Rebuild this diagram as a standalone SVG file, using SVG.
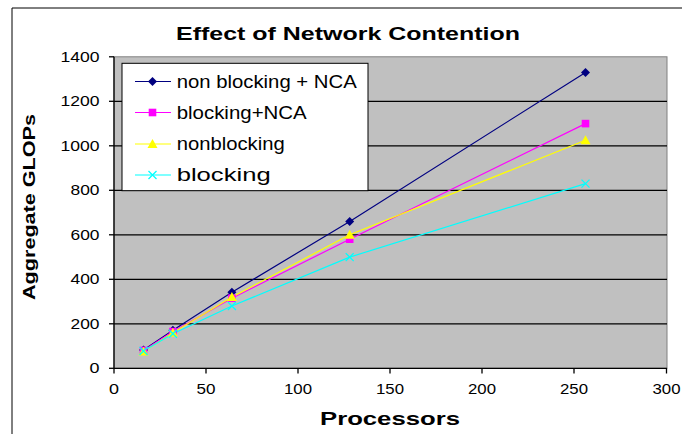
<svg xmlns="http://www.w3.org/2000/svg" width="682" height="434" viewBox="0 0 682 434">
<style>
.t{font-family:"Liberation Sans",Arial,sans-serif;fill:#000}
.tick{font-size:14.5px}
.lg{font-size:17.5px}
.b{font-weight:bold}
.grid{stroke:#000;stroke-width:1.2}
.ax{stroke:#000;stroke-width:1.3}
</style>
<defs>
<path id="dia" d="M0,-4.5L4.5,0L0,4.5L-4.5,0Z" fill="#000080"/>
<rect id="sq" x="-3.8" y="-3.8" width="7.6" height="7.6" fill="#FF00FF"/>
<path id="tri" d="M0,-5L5,4L-5,4Z" fill="#FFFF00"/>
<path id="ex" d="M-4,-4L4,4M-4,4L4,-4" stroke="#00FFFF" stroke-width="1.3" fill="none"/>
</defs>
<rect width="682" height="434" fill="#fff"/>
<path d="M12,440V8H682" fill="none" stroke="#000" stroke-width="1"/>
<text class="t b" x="176" y="40" font-size="18.5" textLength="344" lengthAdjust="spacingAndGlyphs">Effect of Network Contention</text>
<g id="plot">
<rect x="114" y="56.8" width="553" height="311.5" fill="#C0C0C0" stroke="#808080" stroke-width="1"/>
<g class="grid">
<line x1="114" y1="323.8" x2="667" y2="323.8"/>
<line x1="114" y1="279.3" x2="667" y2="279.3"/>
<line x1="114" y1="234.8" x2="667" y2="234.8"/>
<line x1="114" y1="190.3" x2="667" y2="190.3"/>
<line x1="114" y1="145.8" x2="667" y2="145.8"/>
<line x1="114" y1="101.3" x2="667" y2="101.3"/>
</g>
<g class="ax">
<line x1="114" y1="56.8" x2="114" y2="368.3"/>
<line x1="114" y1="368.3" x2="667" y2="368.3"/>
<line x1="109" y1="368.3" x2="114" y2="368.3"/>
<line x1="109" y1="323.8" x2="114" y2="323.8"/>
<line x1="109" y1="279.3" x2="114" y2="279.3"/>
<line x1="109" y1="234.8" x2="114" y2="234.8"/>
<line x1="109" y1="190.3" x2="114" y2="190.3"/>
<line x1="109" y1="145.8" x2="114" y2="145.8"/>
<line x1="109" y1="101.3" x2="114" y2="101.3"/>
<line x1="109" y1="56.8" x2="114" y2="56.8"/>
<line x1="114" y1="368.3" x2="114" y2="373.5"/>
<line x1="206" y1="368.3" x2="206" y2="373.5"/>
<line x1="298" y1="368.3" x2="298" y2="373.5"/>
<line x1="390" y1="368.3" x2="390" y2="373.5"/>
<line x1="482" y1="368.3" x2="482" y2="373.5"/>
<line x1="574" y1="368.3" x2="574" y2="373.5"/>
<line x1="666.5" y1="368.3" x2="666.5" y2="373.5"/>
</g>
</g>
<g id="yticks" class="t tick" text-anchor="end">
<text x="99.5" y="373.3" textLength="10" lengthAdjust="spacingAndGlyphs">0</text>
<text x="99.5" y="328.8" textLength="29" lengthAdjust="spacingAndGlyphs">200</text>
<text x="99.5" y="284.3" textLength="29" lengthAdjust="spacingAndGlyphs">400</text>
<text x="99.5" y="239.8" textLength="29" lengthAdjust="spacingAndGlyphs">600</text>
<text x="99.5" y="195.3" textLength="29" lengthAdjust="spacingAndGlyphs">800</text>
<text x="99.5" y="150.8" textLength="39" lengthAdjust="spacingAndGlyphs">1000</text>
<text x="99.5" y="106.3" textLength="39" lengthAdjust="spacingAndGlyphs">1200</text>
<text x="99.5" y="61.8" textLength="39" lengthAdjust="spacingAndGlyphs">1400</text>
</g>
<g id="xticks" class="t tick" text-anchor="middle">
<text x="114" y="394" textLength="10" lengthAdjust="spacingAndGlyphs">0</text>
<text x="206" y="394" textLength="19" lengthAdjust="spacingAndGlyphs">50</text>
<text x="298" y="394" textLength="28" lengthAdjust="spacingAndGlyphs">100</text>
<text x="390" y="394" textLength="28" lengthAdjust="spacingAndGlyphs">150</text>
<text x="482" y="394" textLength="28" lengthAdjust="spacingAndGlyphs">200</text>
<text x="574" y="394" textLength="28" lengthAdjust="spacingAndGlyphs">250</text>
<text x="666.5" y="394" textLength="28" lengthAdjust="spacingAndGlyphs">300</text>
</g>
<text class="t b" x="320" y="424.5" font-size="18.5" textLength="140" lengthAdjust="spacingAndGlyphs">Processors</text>
<text class="t b" transform="translate(35,300) rotate(-90)" font-size="16.5" textLength="186" lengthAdjust="spacingAndGlyphs">Aggregate GLOPs</text>
<g id="series" fill="none" stroke-width="1.2">
<polyline points="143.5,350.1 172.9,330.3 231.9,292.2 349.7,221.5 585.5,72.4" stroke="#000080"/>
<polyline points="143.5,350.5 172.9,331.6 231.9,298.2 349.7,239.2 585.5,123.6" stroke="#FF00FF"/>
<polyline points="143.5,351.6 172.9,332.7 231.9,297.1 349.7,234.8 585.5,140.2" stroke="#FFFF00"/>
<polyline points="143.5,351 172.9,333.8 231.9,306 349.7,257.1 585.5,183.6" stroke="#00FFFF"/>
</g>
<g id="markers">
<use href="#dia" x="143.5" y="350.1"/><use href="#dia" x="172.9" y="330.3"/><use href="#dia" x="231.9" y="292.2"/><use href="#dia" x="349.7" y="221.5"/><use href="#dia" x="585.5" y="72.4"/>
<use href="#sq" x="143.5" y="350.5"/><use href="#sq" x="172.9" y="331.6"/><use href="#sq" x="231.9" y="298.2"/><use href="#sq" x="349.7" y="239.2"/><use href="#sq" x="585.5" y="123.6"/>
<use href="#tri" x="143.5" y="351.6"/><use href="#tri" x="172.9" y="332.7"/><use href="#tri" x="231.9" y="297.1"/><use href="#tri" x="349.7" y="234.8"/><use href="#tri" x="585.5" y="140.2"/>
<use href="#ex" x="143.5" y="351"/><use href="#ex" x="172.9" y="333.8"/><use href="#ex" x="231.9" y="306"/><use href="#ex" x="349.7" y="257.1"/><use href="#ex" x="585.5" y="183.6"/>
</g>
<g id="legend">
<rect x="122" y="63.3" width="246" height="127.4" fill="#fff" stroke="#000" stroke-width="1"/>
<line x1="135" y1="81.5" x2="171" y2="81.5" stroke="#000080" stroke-width="1.2"/>
<use href="#dia" x="152.5" y="81.5"/>
<line x1="135" y1="112.5" x2="171" y2="112.5" stroke="#FF00FF" stroke-width="1.2"/>
<use href="#sq" x="152.5" y="112.5"/>
<line x1="135" y1="144" x2="171" y2="144" stroke="#FFFF00" stroke-width="1.2"/>
<use href="#tri" x="152.5" y="144"/>
<line x1="135" y1="175" x2="171" y2="175" stroke="#00FFFF" stroke-width="1.2"/>
<use href="#ex" x="152.5" y="175"/>
<g class="t lg">
<text x="176.7" y="87.5" textLength="180" lengthAdjust="spacingAndGlyphs">non blocking + NCA</text>
<text x="176.7" y="118.5" textLength="130" lengthAdjust="spacingAndGlyphs">blocking+NCA</text>
<text x="176.7" y="150" textLength="108" lengthAdjust="spacingAndGlyphs">nonblocking</text>
<text x="176.7" y="181" textLength="94" lengthAdjust="spacingAndGlyphs">blocking</text>
</g>
</g>
</svg>
